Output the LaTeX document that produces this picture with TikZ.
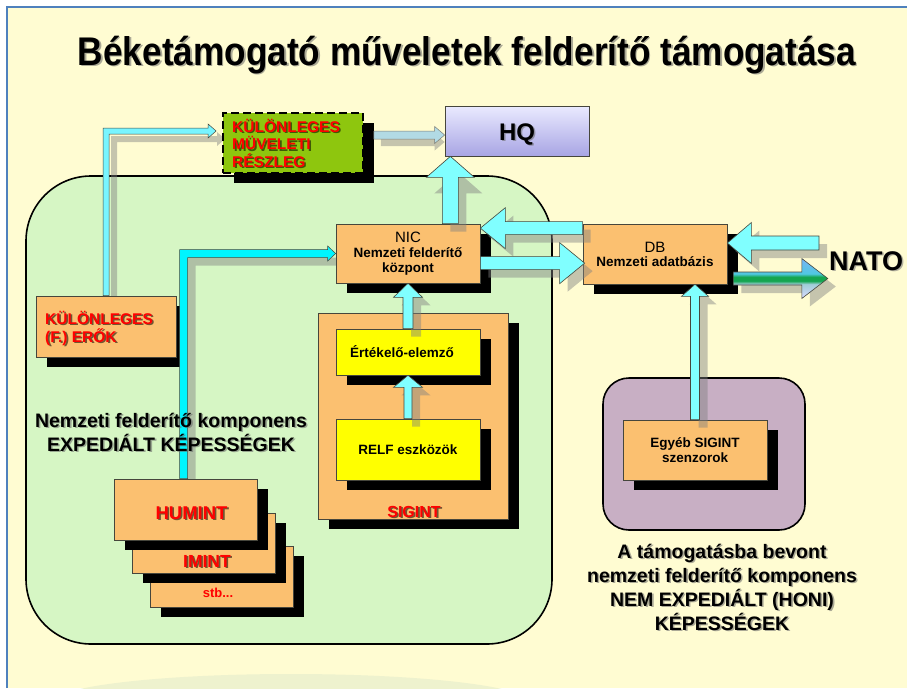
\documentclass[tikz,border=0pt]{standalone}
\usepackage{fontspec}
\setmainfont{Liberation Sans}
\usepackage{graphicx}
\usetikzlibrary{calc,shadows}
\definecolor{bgY}{RGB}{255,252,210}
\definecolor{frameB}{RGB}{79,129,189}
\definecolor{regG}{RGB}{214,246,196}
\definecolor{regP}{RGB}{200,175,196}
\definecolor{boxO}{RGB}{251,192,112}
\definecolor{boxY}{RGB}{255,255,0}
\definecolor{kmrG}{RGB}{142,198,14}
\definecolor{cyanL}{RGB}{128,255,255}
\definecolor{cyanM}{RGB}{120,245,255}
\definecolor{cyanS}{RGB}{0,245,255}
\definecolor{arrGray}{RGB}{178,218,228}
\definecolor{hqTop}{RGB}{234,234,255}
\definecolor{hqBot}{RGB}{168,165,228}
\definecolor{lineD}{RGB}{70,70,60}
\definecolor{faintG}{RGB}{238,242,206}
\definecolor{redT}{RGB}{255,0,0}
\definecolor{natoL}{RGB}{218,218,255}
\definecolor{natoL2}{RGB}{160,205,215}
\definecolor{natoG}{RGB}{20,165,80}
\definecolor{natoB2}{RGB}{80,200,225}
\definecolor{natoB}{RGB}{120,180,245}
\pgfdeclareverticalshading{natoshade}{100bp}{color(0bp)=(natoL); color(25bp)=(natoL); color(43bp)=(natoL2); color(47bp)=(natoG); color(52bp)=(natoG); color(56bp)=(natoB2); color(75bp)=(natoB); color(100bp)=(natoB)}
\newcommand\setfs[2]{\fontsize{#1}{#2}\selectfont}
% horizontal block arrow: style, start, end (y of start used), half shaft, half head, head length
\newcommand\hblk[6]{\path[#1] let \p1=#2, \p2=#3, \n1={sign(\x2-\x1)} in
  (\x1,\y1+#4) -- ({\x2-(\n1)*#6},\y1+#4) -- ({\x2-(\n1)*#6},\y1+#5) -- (\x2,\y1)
  -- ({\x2-(\n1)*#6},\y1-#5) -- ({\x2-(\n1)*#6},\y1-#4) -- (\x1,\y1-#4) -- cycle;}
% vertical block arrow: style, start, end (x of start used)
\newcommand\vblk[6]{\path[#1] let \p1=#2, \p2=#3, \n1={sign(\y2-\y1)} in
  (\x1+#4,\y1) -- (\x1+#4,{\y2-(\n1)*#6}) -- (\x1+#5,{\y2-(\n1)*#6}) -- (\x1,\y2)
  -- (\x1-#5,{\y2-(\n1)*#6}) -- (\x1-#4,{\y2-(\n1)*#6}) -- (\x1-#4,\y1) -- cycle;}
% L arrow: up from start, then right to end
\newcommand\lblk[6]{\path[#1] let \p1=#2, \p2=#3 in
  (\x1-#4,\y1) -- (\x1-#4,\y2+#4) -- (\x2-#6,\y2+#4) -- (\x2-#6,\y2+#5) -- (\x2,\y2)
  -- (\x2-#6,\y2-#5) -- (\x2-#6,\y2-#4) -- (\x1+#4,\y2-#4) -- (\x1+#4,\y1) -- cycle;}
% text with soft shadow
\newcommand\shtext[5]{\node[#3,#4] (#1-sh) at ($#2+(1.6,1.6)$) {#5};
  \node[#3] (#1) at #2 {#5};}
\begin{document}
\begin{tikzpicture}[x=1pt,y=-1pt,
  boxbase/.style={draw=lineD, line width=0.7pt, inner sep=0pt, align=center,
    drop shadow={shadow xshift=11pt, shadow yshift=-10pt, fill=black, opacity=1}},
  obox/.style={boxbase, fill=boxO},
  ybox/.style={boxbase, fill=boxY},
  region/.style={draw=black, line width=1.6pt, inner sep=0pt},
  bigarr/.style={fill=cyanL, draw=lineD, line width=0.6pt},
  thinarr/.style={fill=cyanS, draw=lineD, line width=0.5pt},
  thinarrL/.style={fill=cyanM, draw=lineD, line width=0.5pt},
  lightarr/.style={fill=arrGray, draw=lineD!70, line width=0.5pt},
  arrsh/.style={fill=black!50, opacity=0.45},
  redlbl/.style={text=redT, font=\bfseries, inner sep=0pt},
  redsh/.style={text=black, opacity=0.55},
  blksh/.style={text=black!60, opacity=0.55},
]
\useasboundingbox (0,0) rectangle (907,688);
\fill[white] (0,0) rectangle (907,688);
\fill[bgY] (7,7) rectangle (907,688);
\draw[frameB, line width=2pt] (7,688) -- (7,7) -- (907,7);
\fill[faintG] (291,702) ellipse [x radius=238pt, y radius=28pt];

% regions
\node[region, fill=regG, minimum width=526pt, minimum height=468pt, rounded corners=65pt] (nat) at (289,410) {};
\node[region, fill=regP, minimum width=202pt, minimum height=152pt, rounded corners=26pt] (honi) at (704,454) {};

% helper coordinates (free ends)
\coordinate (natoin) at (819,243);

% shadows of thin L arrows
\begin{scope}[transform canvas={shift={(8pt,-8pt)}}]
\lblk{arrsh}{(106,296)}{(217,131)}{3pt}{7pt}{8pt}
\lblk{arrsh}{(183.5,479)}{(336,253.5)}{4pt}{7.5pt}{8pt}
\end{scope}

% boxes
\node[obox, minimum width=144pt, minimum height=59pt, font=\setfs{13.5}{15}\bfseries] (nic) at (408,253.5)
  {{\mdseries\setfs{15}{15}NIC}\\Nemzeti felderítő\\központ};
\node[obox, minimum width=144pt, minimum height=60pt, font=\setfs{13.5}{14}\bfseries] (db) at (655,254)
  {{\mdseries\setfs{15}{14}DB}\\Nemzeti adatbázis};
\node[obox, minimum width=190pt, minimum height=206pt] (sigint) at (413,416) {};
\node[ybox, minimum width=144pt, minimum height=46pt, font=\setfs{13.5}{15}\bfseries] (ert) at (408,352) {\hspace*{-12pt}Értékelő-elemző};
\node[ybox, minimum width=144pt, minimum height=61pt, font=\setfs{13.5}{15}\bfseries] (relf) at (408,449.5) {RELF eszközök};
\node[obox, minimum width=144pt, minimum height=60pt, font=\setfs{13.5}{15.5}\bfseries] (egyeb) at (695,450) {Egyéb SIGINT\\szenzorok};
\node[obox, minimum width=140pt, minimum height=61pt] (ke) at (106,326.5) {};
\node[obox, minimum width=143pt, minimum height=61pt] (stb) at (221.5,576.5) {};
\node[obox, minimum width=143pt, minimum height=60pt] (imint) at (203.5,543) {};
\node[obox, minimum width=143pt, minimum height=61pt] (humint) at (185.5,509.5) {};
\node[draw=lineD, line width=0.7pt, top color=hqTop, bottom color=hqBot, minimum width=144pt, minimum height=50pt, inner sep=0pt] (hq) at (517,131) {};
\node[boxbase, fill=kmrG, draw=black, line width=1.8pt, dash pattern=on 8pt off 4pt, minimum width=140pt, minimum height=60pt] (kmr) at (293,143) {};
\node[anchor=base, inner sep=0pt, font=\setfs{27}{30}\bfseries, text=black!55, opacity=0.55] (nato-sh) at (867.6,271.6) {NATO};
\node[anchor=base, inner sep=0pt, font=\setfs{27}{30}\bfseries] (nato) at (866,270) {NATO};

% shadows of block arrows
\begin{scope}[transform canvas={shift={(8pt,-8pt)}}]
\vblk{arrsh}{($(nic.north east)+(-30,0)$)}{($(hq.south)+(0,8)$)}{8pt}{24pt}{21pt}
\hblk{arrsh}{($(db.north west)+(0,4.5)$)}{(nic.east)}{6.5pt}{20.5pt}{25pt}
\hblk{arrsh}{($(nic.north east)+(0,39.5)$)}{($(db.west)+(2,0)$)}{6.5pt}{20.5pt}{25pt}
\hblk{arrsh}{(natoin)}{(db.east)}{7pt}{20.5pt}{24pt}
\hblk{arrsh}{($(db.east)+(6,24.5)$)}{($(nato.west)+(-1,0)$)}{6.5pt}{20pt}{26pt}
\vblk{arrsh}{(egyeb.north)}{(db.south)}{4.5pt}{13.5pt}{12pt}
\vblk{arrsh}{(ert.north)}{(nic.south)}{5pt}{14.5pt}{14pt}
\vblk{arrsh}{(relf.north)}{(ert.south)}{4pt}{14.5pt}{12pt}
\end{scope}
\begin{scope}[transform canvas={shift={(7pt,-7pt)}}]
\hblk{arrsh}{($(kmr.east)+(10,-8)$)}{($(hq.west)+(-7,0)$)}{4pt}{8.5pt}{10pt}
\end{scope}

% arrows
\vblk{bigarr}{($(nic.north east)+(-30,0)$)}{(hq.south)}{8pt}{24pt}{21pt}
\hblk{bigarr}{($(db.north west)+(0,4.5)$)}{(nic.east)}{6.5pt}{20.5pt}{25pt}
\hblk{bigarr}{($(nic.north east)+(0,39.5)$)}{($(db.west)+(2,0)$)}{6.5pt}{20.5pt}{25pt}
\hblk{bigarr}{(natoin)}{(db.east)}{7pt}{20.5pt}{24pt}
\hblk{shade, shading=natoshade, draw=lineD, line width=0.6pt}{($(db.east)+(6,24.5)$)}{($(nato.west)+(-1,0)$)}{6.5pt}{20pt}{26pt}
\vblk{bigarr}{(egyeb.north)}{(db.south)}{4.5pt}{13.5pt}{12pt}
\vblk{bigarr}{(ert.north)}{(nic.south)}{5pt}{14.5pt}{14pt}
\vblk{bigarr}{(relf.north)}{(ert.south)}{4pt}{14.5pt}{12pt}
\hblk{lightarr}{($(kmr.east)+(10,-8)$)}{(hq.west)}{4pt}{8.5pt}{10pt}
\lblk{thinarrL}{(ke.north)}{($(kmr.west)+(-6,-12)$)}{3pt}{7pt}{8pt}
\lblk{thinarr}{($(humint.north)+(-2,0)$)}{(nic.west)}{4pt}{7.5pt}{8pt}

% texts
\shtext{title}{(467,65)}{anchor=base, inner sep=0pt}{blksh}{\resizebox{778pt}{\height}{\setfs{40}{48}\bfseries Béketámogató műveletek felderítő támogatása}}
\shtext{hqt}{(517,140)}{anchor=base, inner sep=0pt, font=\setfs{24}{28}\bfseries}{blksh}{HQ}
\shtext{kmrt}{(232,143)}{redlbl, anchor=west, align=left, font=\setfs{15.5}{17.5}\bfseries}{redsh}{KÜLÖNLEGES\\MÜVELETI\\RÉSZLEG}
\shtext{ket}{(45,328)}{redlbl, anchor=west, align=left, font=\setfs{15.5}{18}\bfseries}{redsh}{KÜLÖNLEGES\\(F.) ERŐK}
\shtext{humintt}{(191.5,519)}{redlbl, anchor=base, font=\setfs{18.5}{20}\bfseries}{redsh}{HUMINT}
\shtext{imintt}{(207,567)}{redlbl, anchor=base, font=\setfs{17.5}{20}\bfseries}{redsh}{IMINT}
\node[redlbl, anchor=base, font=\setfs{13}{15}\bfseries] (stbt) at (218,597) {stb...};
\shtext{sigintt}{(414,517)}{redlbl, anchor=base, font=\setfs{16}{18}\bfseries}{redsh}{SIGINT}
\shtext{natlbl}{(171,432)}{align=center, inner sep=0pt, font=\setfs{19.5}{24}\bfseries}{blksh}{Nemzeti felderítő komponens\\EXPEDIÁLT KÉPESSÉGEK}
\shtext{honilbl}{(722,587)}{align=center, inner sep=0pt, font=\setfs{19.5}{24}\bfseries}{blksh}{A támogatásba bevont\\nemzeti felderítő komponens\\NEM EXPEDIÁLT (HONI)\\KÉPESSÉGEK}
\end{tikzpicture}
\end{document}
